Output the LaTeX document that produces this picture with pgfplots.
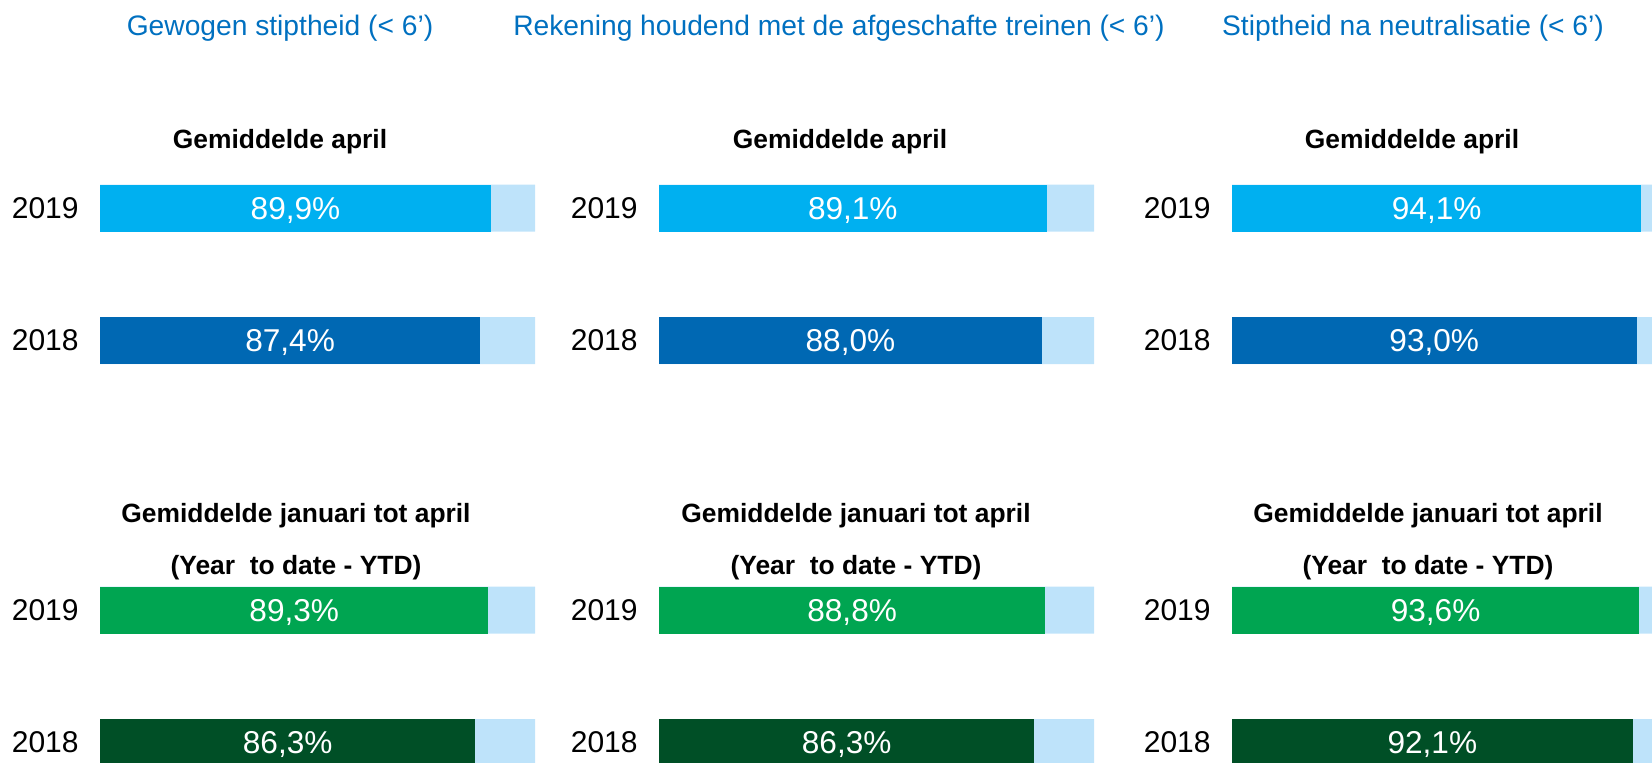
\documentclass[border=0pt]{standalone}
\usepackage{pgfplots}
\pgfplotsset{compat=1.18}
\usepackage{pgfplotstable}
\usepackage{fontspec}
\setmainfont{Liberation Sans}
\definecolor{cyanbar}{HTML}{00B0F0}
\definecolor{bluebar}{HTML}{0068B3}
\definecolor{lightbar}{HTML}{BEE3FA}
\definecolor{greenbar}{HTML}{00A551}
\definecolor{dgreenbar}{HTML}{004F26}
\definecolor{hdrblue}{HTML}{0070C0}

% y = 1 : 2019, y = 0 : 2018 ; v = punctuality in %
\pgfplotstableread{
y v
1 89.9
0 87.4
}\tWA
\pgfplotstableread{
y v
1 89.1
0 88.0
}\tAA
\pgfplotstableread{
y v
1 94.1
0 93.0
}\tNA
\pgfplotstableread{
y v
1 89.3
0 86.3
}\tWY
\pgfplotstableread{
y v
1 88.8
0 86.3
}\tAY
\pgfplotstableread{
y v
1 93.6
0 92.1
}\tNY

\pgfplotsset{
  panel/.style={
    anchor=south west,
    x=2.175pt, y=66.25pt,
    xmin=0, xmax=100, ymin=-0.5, ymax=1.5,
    axis line style={draw=none},
    major tick length=0pt,
    xtick=\empty,
    ytick={0,1}, yticklabels={2018,2019},
    yticklabel style={anchor=east, inner sep=0pt, xshift=-10.5pt,
      font=\fontsize{15}{18}\selectfont},
    /pgf/number format/assume math mode=true,
    clip=false,
  },
  bbar/.style={xbar, bar shift=0pt, bar width=23.5pt, draw=none},
}

\newcommand{\panel}[5]{%
\begin{axis}[panel, at={(#1,#2)}]
\addplot[bbar, fill=lightbar] table[x expr=100, y=y] {#3};
\addplot[bbar, fill=#4, skip coords between index={1}{2}] table[x=v, y=y] {#3};
\addplot[bbar, fill=#5, skip coords between index={0}{1}] table[x=v, y=y] {#3};
\addplot[only marks, mark=none, point meta=explicit,
  nodes near coords={\pgfmathprintnumber[use comma, fixed, fixed zerofill, precision=1, assume math mode=true]{\pgfplotspointmeta}\%},
  every node near coord/.style={anchor=center, text depth=0pt, text=white,
    font=\fontsize{15.8}{18}\selectfont}]
  table[x expr=\thisrow{v}/2, y=y, meta=v] {#3};
\end{axis}}

\begin{document}
\begin{tikzpicture}
\useasboundingbox (0,0) rectangle (826pt,-381pt);
\clip (0,0) rectangle (826pt,-381pt);

% headers
\begin{scope}[every node/.style={anchor=base, inner sep=0pt, text=hdrblue,
    font=\fontsize{14.1}{17}\selectfont}]
\node at (140pt,-17.5pt) {Gewogen stiptheid (< 6’)};
\node at (419.5pt,-17.5pt) {Rekening houdend met de afgeschafte treinen (< 6’)};
\node at (706.5pt,-17.5pt) {Stiptheid na neutralisatie (< 6’)};
\end{scope}

\begin{scope}[every node/.style={anchor=base, inner sep=0pt,
    font=\bfseries\fontsize{13.2}{15}\selectfont}]
\foreach \cx in {140pt,420pt,706pt}{
  \node at (\cx,-74pt) {Gemiddelde april};
  \node at ([xshift=8pt]\cx,-261pt) {Gemiddelde januari tot april};
  \node at ([xshift=8pt]\cx,-287pt) {(Year\ \ to date - YTD)};
}
\end{scope}

\panel{50pt}{-203.375pt}{\tWA}{cyanbar}{bluebar}
\panel{329.5pt}{-203.375pt}{\tAA}{cyanbar}{bluebar}
\panel{616pt}{-203.375pt}{\tNA}{cyanbar}{bluebar}
\panel{50pt}{-404.375pt}{\tWY}{greenbar}{dgreenbar}
\panel{329.5pt}{-404.375pt}{\tAY}{greenbar}{dgreenbar}
\panel{616pt}{-404.375pt}{\tNY}{greenbar}{dgreenbar}
\end{tikzpicture}
\end{document}
